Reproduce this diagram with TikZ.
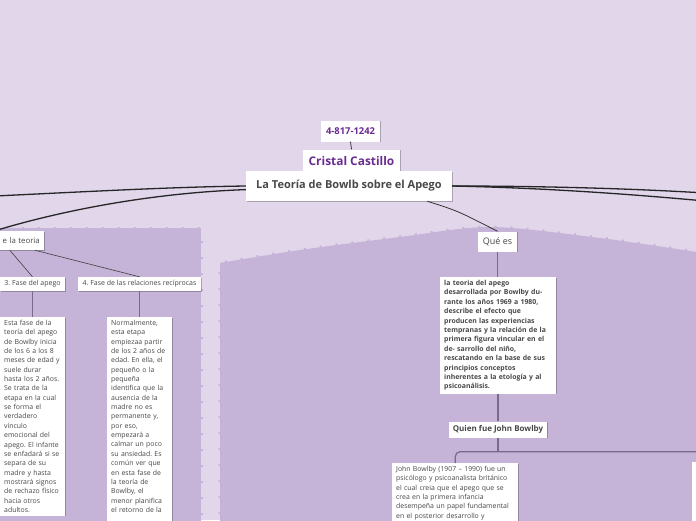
\documentclass[tikz,border=0pt]{standalone}
\usepackage{fontspec}
\setmainfont{Open Sans}
\frenchspacing
\usetikzlibrary{shadows}
\definecolor{bgcol}{RGB}{226,214,235}
\definecolor{panelcol}{RGB}{197,179,216}
\definecolor{inkgray}{RGB}{72,72,72}
\definecolor{namepurple}{RGB}{106,44,145}
\definecolor{branchcol}{RGB}{120,106,136}

\tikzset{
  card/.style={fill=white, text=inkgray, inner sep=0pt,
    drop shadow={shadow xshift=0.7pt, shadow yshift=-0.9pt, opacity=0.25, fill=black}},
  note/.style={card, anchor=north west, align=left, inner xsep=4pt, inner ysep=3pt,
    font=\fontsize{6.9}{9.35}\selectfont},
  trunk/.style={draw=black!85, line width=1.3pt},
  branch/.style={draw=branchcol, line width=1.2pt},
  twig/.style={draw=black!75, line width=0.6pt},
  ticks/.style={draw=panelcol, line width=3pt, dash pattern=on 2pt off 14pt},
}

\begin{document}
\begin{tikzpicture}[x=1pt,y=-1pt]
  \useasboundingbox[fill=bgcol] (0,0) rectangle (696,520);

  % panels
  \fill[panelcol] (-10,228) rectangle (201,530);
  \draw[ticks] (-10,228) -- (201,228) -- (201,530);
  \fill[panelcol] (220,530) -- plot[smooth] coordinates {(220,263) (300,250) (400,237) (490,227) (600,238) (710,254)} -- (710,530) -- cycle;
  \draw[ticks] (220,530) -- plot[smooth] coordinates {(220,263) (300,250) (400,237) (490,227) (600,238) (710,254)};

  % centre
  \node[card, minimum width=59, minimum height=21, text=namepurple,
    font=\bfseries\fontsize{9.4}{11}\selectfont] (phone) at (350.5,131) {4-817-1242};
  \node[card, minimum width=97, minimum height=23, text=namepurple,
    font=\bfseries\fontsize{11.9}{14}\selectfont] (cristal) at (351.5,161) {Cristal Castillo};
  \node[card, minimum width=206, minimum height=30,
    font=\bfseries\fontsize{11}{13}\selectfont] (main) at (349,186) {La Teoría de Bowlb sobre el Apego};

  % right branch
  \node[card, minimum width=39, minimum height=20,
    font=\fontsize{9}{11}\selectfont] (que) at (497.5,241.5) {Qué es};
  \node[note, text width=108, font=\bfseries\fontsize{6.9}{9.4}\selectfont] (def) at (440,277)
    {la teoria del apego\\ desarrollada por Bowlby du-\\ rante los años 1969 a 1980,\\ describe el efecto que\\
     producen las experiencias\\ tempranas y la relación de la\\ primera figura vincular en el\\ de- sarrollo del niño,\\
     rescatando en la base de sus\\ principios conceptos\\ inherentes a la etología y al\\ psicoanálisis.};
  \node[card, minimum width=98, minimum height=16,
    font=\bfseries\fontsize{8}{10}\selectfont] (quien) at (498,429.5) {Quien fue John Bowlby};
  \node[note, text width=118] (john) at (392,463)
    {John Bowlby (1907 – 1990) fue un\\ psicólogo y psicoanalista británico\\ el cual creia que el apego que se\\
     crea en la primera infancia\\ desempeña un papel fundamental\\ en el posterior desarrollo y\\[10pt]\mbox{}};
  \node[card, minimum width=60, minimum height=80, anchor=north west] (nextcard) at (692,462) {};

  % left branch
  \node[card, anchor=east, text width=90, align=right, inner xsep=4pt, minimum height=19,
    font=\fontsize{7.8}{10}\selectfont] (teoria) at (44,240.5) {e la teoria};
  \node[card, minimum width=65, minimum height=14,
    font=\fontsize{7}{9}\selectfont] (fase3) at (32.5,284) {3. Fase del apego};
  \node[card, minimum width=123, minimum height=14,
    font=\fontsize{7}{9}\selectfont] (fase4) at (139.5,284) {4. Fase de las relaciones recíprocas};
  \node[note, text width=57] (fase3txt) at (0,317)
    {Esta fase de la\\ teoría del apego\\ de Bowlby inicia\\ de los 6 a los 8\\ meses de edad y\\ suele durar\\
     hasta los 2 años.\\ Se trata de la\\ etapa en la cual\\ se forma el\\ verdadero\\ vínculo\\ emocional del\\
     apego. El infante\\ se enfadará si se\\ separa de su\\ madre y hasta\\ mostrará signos\\ de rechazo físico\\
     hacia otros\\ adultos.};
  \node[note, text width=57] (fase4txt) at (107,317)
    {Normalmente,\\ esta etapa\\ empiezaa partir\\ de los 2 años de\\ edad. En ella, el\\ pequeño o la\\ pequeña\\
     identifica que la\\ ausencia de la\\ madre no es\\ permanente y,\\ por eso,\\ empezará a\\ calmar un poco\\
     su ansiedad. Es\\ común ver que\\ en esta fase de\\ la teoría de\\ Bowlby, el\\ menor planifica\\
     el retorno de la\\[10pt]\mbox{}};

  % connectors
  \coordinate (offleft) at (-5,196);
  \coordinate (offright1) at (705,193);
  \coordinate (offright2) at (705,201);
  \draw[black!80, line width=0.8pt] (phone.south) -- (cristal.north);
  \draw[trunk] (main.west) .. controls (170,187) and (80,192) .. (offleft);
  \draw[trunk] (main.182) .. controls (150,193) and (60,211) .. (teoria.north);
  \draw[trunk] (main.east) .. controls (550,186) and (640,189) .. (offright1);
  \draw[trunk] (main.east) .. controls (550,188) and (640,195) .. (offright2);
  \draw[black!80, line width=0.8pt] (main.-11) .. controls (458,211) .. (que.north);

  \draw[branch] (que.south) -- (def.north -| que.south);
  \draw[branch] (def.south -| quien.north) -- (quien.north);
  \draw[branch] (quien.south) -- ++(0,14) coordinate (split);
  \draw[branch, rounded corners=5pt] (split) -| (john.north);
  \draw[branch, rounded corners=5pt] (split) -| (nextcard.north);

  \draw[twig] ([xshift=15pt]teoria.south) -- (fase3.north);
  \draw[twig] ([xshift=40pt]teoria.south) -- (fase4.north);
  \draw[branch] (fase3.south) -- (fase3.south |- fase3txt.north);
  \draw[branch] (fase4.south) -- (fase4.south |- fase4txt.north);
\end{tikzpicture}
\end{document}
